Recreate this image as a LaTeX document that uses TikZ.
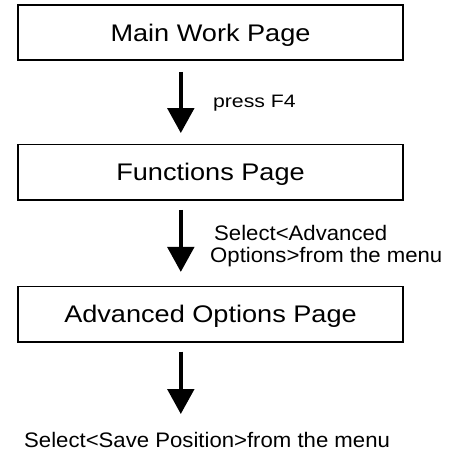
\documentclass[tikz,border=0pt]{standalone}
\usepackage{fontspec}
\setmainfont{Liberation Sans}
\newfontfamily\boxfont{Liberation Sans}[FakeStretch=1.13]
\newfontfamily\pressfont{Liberation Sans}[FakeStretch=1.18]
\newfontfamily\lblfont{Liberation Sans}[FakeStretch=1.055]
\usetikzlibrary{arrows.meta}
\begin{document}
\begin{tikzpicture}[x=1pt,y=1pt,
  pagebox/.style={draw=black, line width=1.6pt, minimum width=385.4pt, minimum height=55.4pt,
    inner sep=0pt, text height=17.2pt, text depth=0pt, font=\boxfont\fontsize{24}{28}\selectfont},
  lbl/.style={inner sep=0pt, anchor=base west, font=\lblfont\fontsize{21}{25}\selectfont},
  flow/.style={line width=3.7pt, -{Triangle[width=26.5pt,length=25pt]}}]
\useasboundingbox (0,0) rectangle (458,-452);
\node[pagebox] (b1) at (210.5,-32.5) {Main Work Page};
\node[pagebox] (b2) at (210.5,-172.35) {Functions Page};
\node[pagebox] (b3) at (210.5,-314.2) {Advanced Options Page};
\coordinate (end3) at (180.8,-414);
\draw[flow] ([xshift=-29.7pt,yshift=-10.8pt]b1.south) -- ([xshift=-29.7pt,yshift=10.8pt]b2.north);
\draw[flow] ([xshift=-29.7pt,yshift=-9.1pt]b2.south) -- ([xshift=-29.7pt,yshift=13.8pt]b3.north);
\draw[flow] ([xshift=-29.7pt,yshift=-8.8pt]b3.south) -- (end3);
\node[lbl, font=\pressfont\fontsize{18}{22}\selectfont] (l1) at (212.9,-107.3) {press F4};
\node[lbl] (l2a) at (214,-240.5) {Select<Advanced};
\node[lbl] (l2b) at (210,-262) {Options>from the menu};
\node[lbl] (l3) at (24,-447) {Select<Save Position>from the menu};
\end{tikzpicture}
\end{document}
